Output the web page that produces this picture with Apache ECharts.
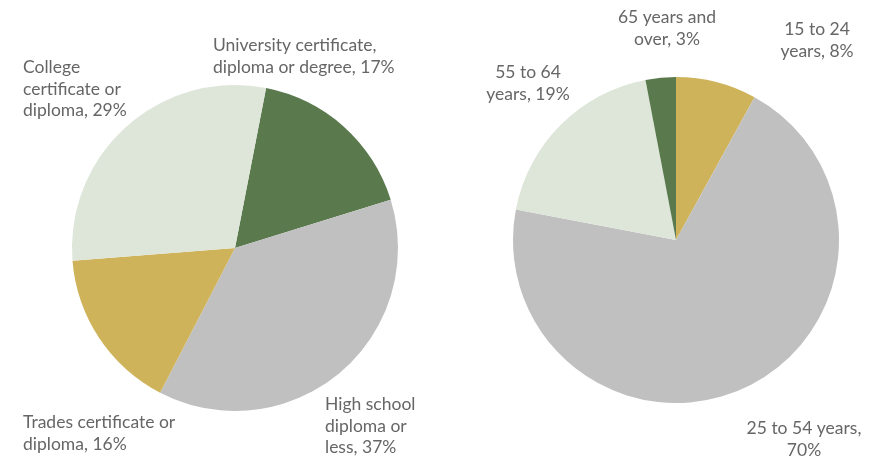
<!DOCTYPE html>
<html>
<head>
<meta charset="utf-8">
<script src="https://cdn.jsdelivr.net/npm/echarts@6/dist/echarts.min.js"></script>
<style>
  html, body { margin: 0; padding: 0; background: #fff; }
  #chart { width: 890px; height: 462px; }
</style>
</head>
<body>
<div id="chart"></div>
<script>
// education breakdown (left pie)
var eduNames = ['University certificate,\ndiploma or degree', 'High school\ndiploma or\nless', 'Trades certificate or\ndiploma', 'College\ncertificate or\ndiploma'];
var eduValues = [17, 37, 16, 29];

// age breakdown (right pie)
var ageNames = ['15 to 24\nyears', '25 to 54 years,\n', '55 to 64\nyears', '65 years and\nover'];
var ageValues = [8, 70, 19, 3];

var palette = ['#5a7a4e', '#c0c0c0', '#ceb35a', '#dee6da'];
var agePalette = ['#ceb35a', '#c0c0c0', '#dee6da', '#5a7a4e'];

// label spots, top of text box
var eduSpots = [[213, 35, 'left'], [325, 394, 'left'], [23, 412, 'left'], [23, 57, 'left']];
var ageSpots = [[817, 19, 'center'], [804, 418, 'center'], [528, 62, 'center'], [667, 7, 'center']];

function toData(names, values, colors) {
  return names.map(function (n, i) {
    return { name: n, value: values[i], itemStyle: { color: colors[i] } };
  });
}

function fmt(p) {
  var sep = p.name.slice(-1) === '\n' ? '' : ', ';
  return p.name + sep + p.value + '%';
}

var labelStyle = {
  show: true,
  formatter: fmt,
  color: '#666',
  fontSize: 17.5,
  lineHeight: 21.5,
  overflow: 'none',
  fontFamily: 'Lato, "Open Sans", sans-serif'
};

var myChart = echarts.init(document.getElementById('chart'));
var option = {
  animation: false,
  series: [
    {
      type: 'pie',
      center: [235, 248],
      radius: 163,
      startAngle: 79,
      clockwise: true,
      label: labelStyle,
      labelLine: { show: false },
      labelLayout: function (p) {
        var s = eduSpots[p.dataIndex];
        return { x: s[0], y: s[1], align: s[2], verticalAlign: 'top' };
      },
      itemStyle: { borderWidth: 0 },
      emphasis: { disabled: true },
      data: toData(eduNames, eduValues, palette)
    },
    {
      type: 'pie',
      center: [676, 240],
      radius: 163,
      startAngle: 90,
      clockwise: true,
      label: labelStyle,
      labelLine: { show: false },
      labelLayout: function (p) {
        var s = ageSpots[p.dataIndex];
        return { x: s[0], y: s[1], align: s[2], verticalAlign: 'top' };
      },
      itemStyle: { borderWidth: 0 },
      emphasis: { disabled: true },
      data: toData(ageNames, ageValues, agePalette)
    }
  ]
};
myChart.setOption(option);
</script>
</body>
</html>
